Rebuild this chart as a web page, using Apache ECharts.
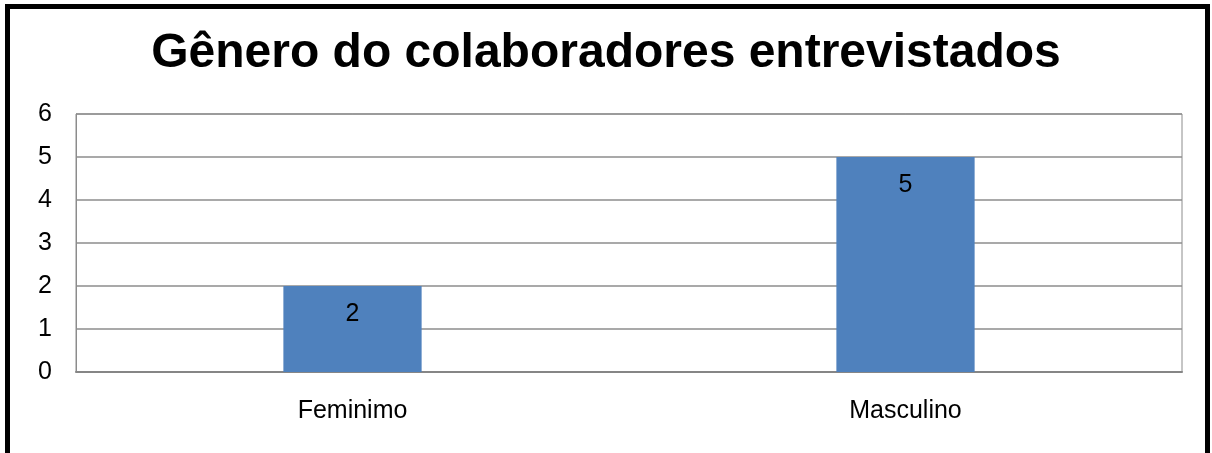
<!DOCTYPE html>
<html><head><meta charset="utf-8">
<script src="https://cdn.jsdelivr.net/npm/echarts@6/dist/echarts.min.js"></script>
<style>html,body{margin:0;padding:0;background:#fff}#c{width:1212px;height:453px}</style>
</head><body><div id="c"></div>
<script>
const titleText = 'Gênero do colaboradores entrevistados';
const categories = ['Feminimo', 'Masculino'];
const values = [2, 5];
const yTicks = [0, 1, 2, 3, 4, 5, 6];

const chart = echarts.init(document.getElementById('c'), null, {renderer: 'canvas'});
const font = '"Liberation Sans", Arial, sans-serif';
chart.setOption({
  animation: false,
  backgroundColor: '#fff',
  title: {
    text: titleText, left: 'center', top: 25,
    textStyle: {fontFamily: font, fontSize: 48, fontWeight: 'bold', color: '#000'}
  },
  grid: {left: 76, right: 30, top: 114, bottom: 81, show: true, borderColor: '#8c8c8c', borderWidth: 1, backgroundColor: 'transparent'},
  xAxis: {
    type: 'category', data: categories,
    axisLine: {lineStyle: {color: '#868686', width: 2}},
    axisTick: {show: false},
    axisLabel: {fontFamily: font, fontSize: 25, color: '#000', margin: 27}
  },
  yAxis: {
    type: 'value', min: yTicks[0], max: yTicks[yTicks.length - 1], interval: 1,
    axisLine: {show: true, lineStyle: {color: '#8c8c8c', width: 1}},
    axisTick: {show: false},
    splitLine: {lineStyle: {color: '#8c8c8c', width: 1.5}},
    axisLabel: {fontFamily: font, fontSize: 25, color: '#000', margin: 24}
  },
  series: [{
    type: 'bar', data: values, barWidth: '25%',
    itemStyle: {color: '#4F81BD'},
    label: {show: true, position: 'insideTop', distance: 16, fontFamily: font, fontSize: 25, color: '#000'}
  }],
  graphic: [{
    type: 'rect', shape: {x: 7.5, y: 6.5, width: 1200, height: 470},
    style: {fill: 'none', stroke: '#000', lineWidth: 5}, z: 100
  }]
});
</script></body></html>
